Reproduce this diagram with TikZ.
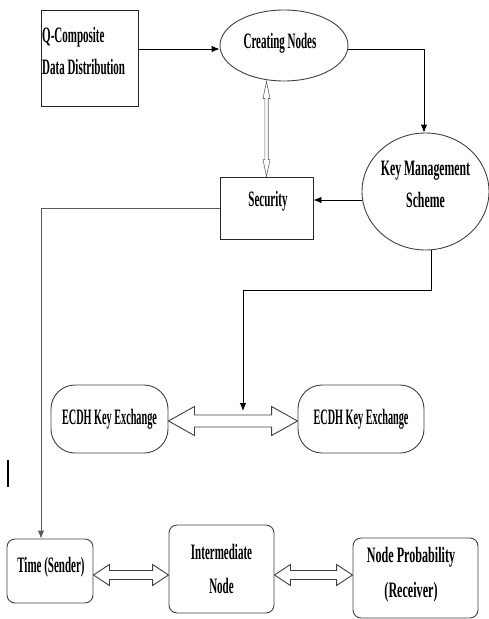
\documentclass[tikz,border=0pt]{standalone}
\usepackage{graphicx}
\usepackage{fontspec}
\setmainfont{Liberation Serif}[FakeStretch=0.5]
\usetikzlibrary{arrows.meta,shapes.geometric,calc}
\newcommand\hdblarr[6]{%
  \draw[hollow,#6] let \p1=(#1), \p2=(#2) in
   (\x1,\y1) -- (\x1+#3,\y1+#4) -- (\x1+#3,\y1+#5) -- (\x2-#3,\y1+#5) -- (\x2-#3,\y1+#4)
   -- (\x2,\y1) -- (\x2-#3,\y1-#4) -- (\x2-#3,\y1-#5) -- (\x1+#3,\y1-#5) -- (\x1+#3,\y1-#4) -- cycle;}
\newcommand\txw[2]{\scalebox{#1}[1]{#2}}
\begin{document}
\begin{tikzpicture}[x=1pt,y=-1pt,
  lbl/.style={font=\fontsize{22}{32}\selectfont\bfseries, align=center, inner sep=0pt},
  sqbox/.style={draw=black!85, line width=0.9pt, inner sep=0pt},
  rbox/.style={draw=black!75, line width=0.9pt, inner sep=0pt, font=\fontsize{22}{32}\selectfont\bfseries, align=center},
  oval/.style={ellipse, draw=black!75, line width=0.9pt, inner sep=0pt},
  arr/.style={line width=0.9pt, -{Latex[length=8pt,width=6.5pt]}},
  hollow/.style={draw=black!75, line width=0.9pt, fill=white, line join=miter},
]
\useasboundingbox (0,0) rectangle (489,619);

% nodes
\node[sqbox, minimum width=97pt, minimum height=96pt] (qc) at (89.5,58) {};
\node[lbl, align=left, anchor=west] (qct) at (42,51) {Q-Composite\\Data Distribution};

\node[oval, minimum width=128pt, minimum height=71pt] (cn) at (284,45.5) {};
\node[lbl] (cnt) at (280,43) {Creating Nodes};

\node[oval, minimum width=127pt, minimum height=117pt] (km) at (425.5,191.5) {};
\node[lbl] (kmt) at (425.5,184) {\txw{1.07}{Key Management}\\\txw{1.07}{Scheme}};

\node[sqbox, minimum width=93pt, minimum height=62pt] (sec) at (266.5,208) {};
\node[lbl] (sect) at (268,201) {Security};

\node[rbox, rounded corners=24pt, minimum width=117pt, minimum height=68pt] (ecdhL) at (109.5,419) {\txw{0.93}{ECDH Key Exchange}};
\node[rbox, rounded corners=24pt, minimum width=126pt, minimum height=68pt] (ecdhR) at (361,419) {\txw{0.93}{ECDH Key Exchange}};

\node[rbox, rounded corners=8pt, minimum width=86pt, minimum height=64pt] (time) at (50,571) {};
\node[lbl] (timet) at (51,567) {Time (Sender)};
\node[rbox, rounded corners=8pt, minimum width=105pt, minimum height=88pt] (inter) at (221.5,569) {Intermediate\\[2pt]Node};
\node[rbox, rounded corners=8pt, minimum width=125pt, minimum height=80pt] (prob) at (415.5,578) {};
\node[lbl] (probt) at (411,575) {\txw{1.1}{Node Probability}\\[3pt]\txw{1.1}{(Receiver)}};

% connectors
\coordinate (a1) at ([yshift=-3.5pt]cn.west);
\draw[arr] (qc.east |- a1) -- (a1);
\coordinate (a2) at ([yshift=-3.5pt]cn.east);
\draw[arr] (a2) -| ([xshift=-1.5pt]km.north);
\coordinate (a3) at ([yshift=-8.5pt]km.west);
\draw[arr] (a3) -- (sec.east |- a3);
\draw[arr, draw=black!65] (sec.west) -| ([xshift=-9pt]time.north);
\coordinate (kmb) at ([xshift=5.5pt]km.south);
\coordinate (dtop) at (243,411);
\draw[arr] (kmb) -- ++(0,40) -| (dtop);

% vertical thin double arrow
\coordinate (v1) at (sec.north |- cn.south);
\draw[hollow, draw=black!60, line width=0.6pt] let \p1=(v1), \p2=(sec.north) in
  (\x1,\y1) -- (\x1+3.5pt,\y1-17pt) -- (\x1+1.7pt,\y1-17pt) -- (\x1+1.7pt,\y2+17pt) -- (\x1+3.5pt,\y2+17pt)
  -- (\x1,\y2) -- (\x1-3.5pt,\y2+17pt) -- (\x1-1.7pt,\y2+17pt) -- (\x1-1.7pt,\y1-17pt) -- (\x1-3.5pt,\y1-17pt) -- cycle;

% thick hollow double arrows
\hdblarr{[yshift=-2pt]ecdhL.east}{[yshift=-2pt]ecdhR.west}{26pt}{14.5pt}{6pt}{}
\hdblarr{[yshift=-4pt]time.east}{[yshift=-4pt]inter.west}{16pt}{10.5pt}{4.5pt}{}
\hdblarr{[yshift=-6pt]inter.east}{[yshift=3pt]prob.west}{16pt}{10.5pt}{4.5pt}{}

% stray mark
\draw[line width=1.2pt] (8,460) -- (8,487);
\end{tikzpicture}
\end{document}
